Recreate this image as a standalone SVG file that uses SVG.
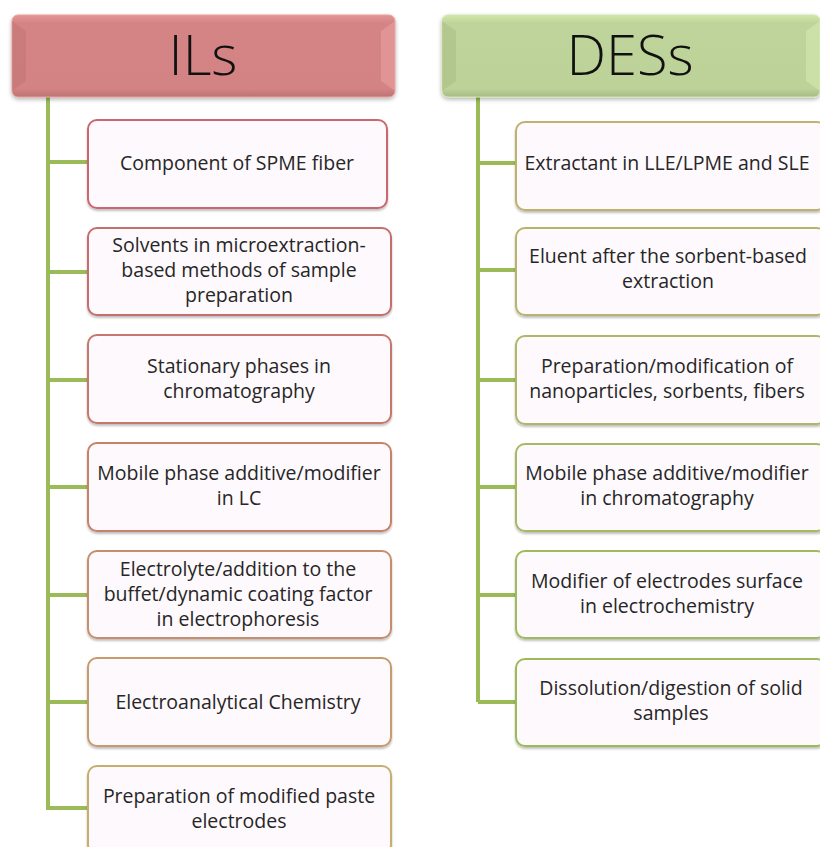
<svg xmlns="http://www.w3.org/2000/svg" width="820" height="847" viewBox="0 0 820 847">
<defs>
  <linearGradient id="gRed" x1="0" y1="0" x2="0" y2="1">
    <stop offset="0" stop-color="#E49494"/>
    <stop offset="0.1" stop-color="#D48484"/>
    <stop offset="0.9" stop-color="#D38383"/>
    <stop offset="1" stop-color="#BC7474"/>
  </linearGradient>
  <linearGradient id="gGreen" x1="0" y1="0" x2="0" y2="1">
    <stop offset="0" stop-color="#D0E6AA"/>
    <stop offset="0.1" stop-color="#BFD49A"/>
    <stop offset="0.9" stop-color="#BDD298"/>
    <stop offset="1" stop-color="#A6BB86"/>
  </linearGradient>
  <filter id="sh" x="-5%" y="-10%" width="110%" height="130%">
    <feGaussianBlur in="SourceAlpha" stdDeviation="2"/>
    <feOffset dx="0" dy="2"/>
    <feComponentTransfer><feFuncA type="linear" slope="0.3"/></feComponentTransfer>
    <feMerge><feMergeNode/><feMergeNode in="SourceGraphic"/></feMerge>
  </filter>
  <filter id="sh2" x="-5%" y="-10%" width="110%" height="130%">
    <feGaussianBlur in="SourceAlpha" stdDeviation="1.2"/>
    <feOffset dx="0" dy="1.5"/>
    <feComponentTransfer><feFuncA type="linear" slope="0.25"/></feComponentTransfer>
    <feMerge><feMergeNode/><feMergeNode in="SourceGraphic"/></feMerge>
  </filter>
</defs>
<style>
  .hdr { font-family: "Open Sans", "Liberation Sans", sans-serif; font-weight: 300; font-size: 56px; fill: #111; text-anchor: middle; }
  .box { fill: #FDF9FC; stroke-width: 2; filter: url(#sh2); }
  .lbl { font-family: "Open Sans", "Liberation Sans", sans-serif; font-size: 19.5px; fill: #262626; text-anchor: middle; }
  .conn { stroke: #9BBB59; stroke-width: 4; fill: none; }
</style>
<rect width="820" height="847" fill="#FFFFFF"/>

<g id="connectors">
  <path class="conn" d="M48 97 V810 M48 162 H88 M48 272 H88 M48 380 H88 M48 487 H88 M48 595 H88 M48 702 H88 M48 808 H88"/>
  <path class="conn" d="M478 97 V702 M478 163 H516 M478 270 H516 M478 380 H516 M478 487 H516 M478 595 H516 M478 702 H516"/>
</g>

<g id="header-ILs">
  <rect x="12" y="15" width="383" height="82" rx="6" fill="url(#gRed)" stroke="#E7A0A0" stroke-width="1" filter="url(#sh)"/>
  <path d="M12 21 L26 31 V81 L12 91 Z" fill="#B86C6C" opacity="0.35"/>
  <path d="M395 21 L381 31 V81 L395 91 Z" fill="#F0A8A8" opacity="0.45"/>
  <text class="hdr" x="203" y="75">ILs</text>
</g>
<g id="header-DESs">
  <rect x="442" y="15" width="378" height="82" rx="6" fill="url(#gGreen)" stroke="#D2E6B0" stroke-width="1" filter="url(#sh)"/>
  <path d="M442 21 L456 31 V81 L442 91 Z" fill="#A0B67E" opacity="0.4"/>
  <path d="M820 21 L806 31 V81 L820 91 Z" fill="#D8EEB4" opacity="0.5"/>
  <text class="hdr" x="630" y="75">DESs</text>
</g>

<g id="il-1">
  <rect class="box" x="88" y="120" width="299" height="88" rx="9" stroke="#C9686F"/>
  <text class="lbl" x="237" y="170">Component of SPME fiber</text>
</g>
<g id="il-2">
  <rect class="box" x="88" y="228" width="303" height="87" rx="9" stroke="#C66E6E"/>
  <text class="lbl" x="239" y="252">Solvents in microextraction-</text>
  <text class="lbl" x="239" y="277">based methods of sample</text>
  <text class="lbl" x="239" y="302">preparation</text>
</g>
<g id="il-3">
  <rect class="box" x="88" y="335" width="303" height="88" rx="9" stroke="#C6786C"/>
  <text class="lbl" x="239" y="373">Stationary phases in</text>
  <text class="lbl" x="239" y="398">chromatography</text>
</g>
<g id="il-4">
  <rect class="box" x="88" y="443" width="303" height="88" rx="9" stroke="#C6826A"/>
  <text class="lbl" x="239" y="480">Mobile phase additive/modifier</text>
  <text class="lbl" x="239" y="505">in LC</text>
</g>
<g id="il-5">
  <rect class="box" x="88" y="551" width="303" height="87" rx="9" stroke="#C68E6A"/>
  <text class="lbl" x="238" y="576">Electrolyte/addition to the</text>
  <text class="lbl" x="238" y="601">buffet/dynamic coating factor</text>
  <text class="lbl" x="238" y="626">in electrophoresis</text>
</g>
<g id="il-6">
  <rect class="box" x="88" y="658" width="303" height="88" rx="9" stroke="#C69C6C"/>
  <text class="lbl" x="238" y="709">Electroanalytical Chemistry</text>
</g>
<g id="il-7">
  <rect class="box" x="88" y="766" width="303" height="88" rx="9" stroke="#C8AE6E"/>
  <text class="lbl" x="239" y="803">Preparation of modified paste</text>
  <text class="lbl" x="239" y="828">electrodes</text>
</g>

<g id="des-1">
  <rect class="box" x="516" y="122" width="310" height="88" rx="9" stroke="#BFB16E"/>
  <text class="lbl" x="667" y="170">Extractant in LLE/LPME and SLE</text>
</g>
<g id="des-2">
  <rect class="box" x="516" y="228" width="310" height="87" rx="9" stroke="#B8B46C"/>
  <text class="lbl" x="668" y="263">Eluent after the sorbent-based</text>
  <text class="lbl" x="668" y="288">extraction</text>
</g>
<g id="des-3">
  <rect class="box" x="516" y="336" width="310" height="88" rx="9" stroke="#B0B868"/>
  <text class="lbl" x="667" y="373">Preparation/modification  of</text>
  <text class="lbl" x="667" y="398">nanoparticles, sorbents, fibers</text>
</g>
<g id="des-4">
  <rect class="box" x="516" y="444" width="310" height="87" rx="9" stroke="#A8B964"/>
  <text class="lbl" x="667" y="480">Mobile phase additive/modifier</text>
  <text class="lbl" x="667" y="505">in chromatography</text>
</g>
<g id="des-5">
  <rect class="box" x="516" y="551" width="310" height="87" rx="9" stroke="#A0BA5E"/>
  <text class="lbl" x="667" y="588">Modifier of electrodes surface</text>
  <text class="lbl" x="667" y="613">in electrochemistry</text>
</g>
<g id="des-6">
  <rect class="box" x="516" y="659" width="310" height="87" rx="9" stroke="#9BBB59"/>
  <text class="lbl" x="671" y="695">Dissolution/digestion of solid</text>
  <text class="lbl" x="671" y="720">samples</text>
</g>
</svg>
